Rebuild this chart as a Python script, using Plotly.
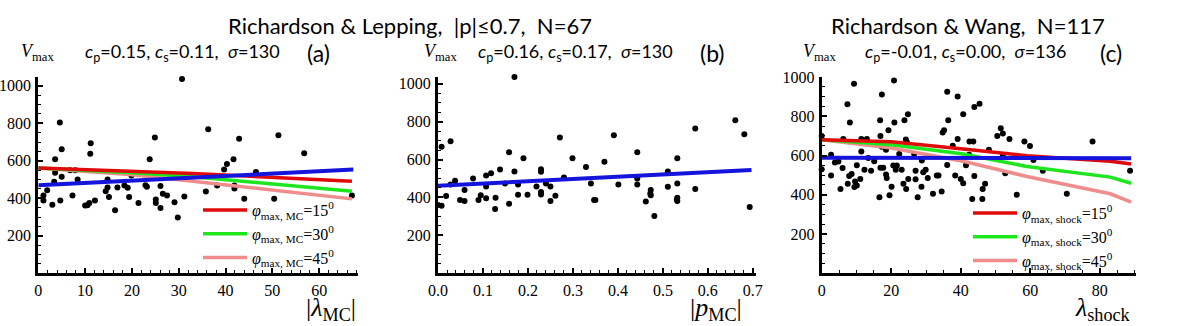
import plotly.graph_objects as go

# ---- panel (a): Richardson & Lepping, |lambda_MC| vs Vmax
lam_mc = [30.7, 4.6, 24.9, 11.2, 5.0, 11.1, 3.6, 23.8, 3.6, 6.8, 7.9, 5.0, 8.4, 3.4, 19.9, 14.8,
          24.9, 22.9, 23.2, 26.1, 1.9, 14.8, 16.9, 18.4, 19.1, 14.4, 1.1, 1.1, 26.6, 27.5, 7.3, 15.1,
          19.4, 31.2, 25.1, 25.1, 4.7, 3.0, 12.1, 10.9, 10.0, 10.5, 21.4, 26.1, 29.1, 16.4, 29.8,
          36.3, 42.9, 51.3, 56.8, 41.7, 40.3, 39.7, 46.5, 38.2, 41.9, 41.9, 35.8, 44.0, 50.4, 67.0]
vmax_a = [1036, 804, 724, 693, 661, 638, 608, 608, 536, 549, 549, 515, 500, 488, 522, 500,
          518, 470, 461, 466, 443, 457, 457, 468, 456, 438, 415, 388, 424, 415, 415, 407,
          407, 409, 393, 375, 388, 366, 388, 375, 361, 363, 375, 348, 379, 336, 298,
          768, 718, 736, 640, 608, 583, 554, 540, 468, 468, 452, 436, 397, 397, 415]
fit_a_x = [0, 67.3]
fit_a_y = [470, 553]
model_a_x = [0, 20, 33, 67]
model_a_15 = [561, 545, 532, 491]
model_a_30 = [561, 536, 515, 438]
model_a_45 = [561, 525, 491, 397]

# ---- panel (b): |p_MC| vs Vmax
p_mc = [0.170, 0.028, 0.008, 0.271, 0.158, 0.190, 0.299, 0.138, 0.170, 0.229, 0.229, 0.118, 0.107,
        0.078, 0.329, 0.038, 0.028, 0.107, 0.149, 0.178, 0.219, 0.240, 0.250, 0.280, 0.340, 0.059,
        0.018, 0.095, 0.107, 0.128, 0.178, 0.199, 0.229, 0.229, 0.261, 0.049, 0.059, 0.090, 0.250,
        0.158, 0.127, 0.000, 0.008, 0.347,
        0.661, 0.572, 0.681, 0.391, 0.443, 0.370, 0.532, 0.511, 0.443, 0.401, 0.443, 0.532, 0.511,
        0.572, 0.473, 0.473, 0.472, 0.350, 0.462, 0.532, 0.532, 0.531, 0.481, 0.693]
vmax_b = [1035, 696, 667, 716, 638, 607, 607, 547, 537, 549, 535, 528, 516,
          500, 560, 488, 468, 458, 474, 468, 458, 474, 458, 505, 474, 439,
          407, 412, 396, 398, 414, 414, 428, 416, 409, 386, 381, 386, 381,
          367, 339, 360, 356, 386,
          807, 763, 733, 728, 638, 588, 607, 537, 500, 468, 468, 474, 456,
          444, 439, 412, 421, 386, 379, 398, 381, 388, 302, 349]
fit_b_x = [0, 0.697]
fit_b_y = [461, 544]

# ---- panel (c): Richardson & Wang, lambda_shock vs Vmax
lam_sh = [20.8, 9.3, 36.1, 39.1, 17.3, 7.4, 24.8, 40.7, 8.1, 16.8, 20.9, 23.8, 36.4, 19.2, 34.8, 35.2,
          0.0, 16.9, 39.1, 6.2, 11.4, 13.0, 24.2, 24.5, 37.7, 17.3, 18.5, 11.4, 26.6, 22.3, 2.7, 13.4,
          15.1, 3.8, 4.8, 28.8, 10.1, 20.6, 21.6, 0.0, 6.0, 12.3, 14.2, 16.9, 17.7, 21.3, 23.0, 27.0,
          29.9, 36.1, 29.2, 2.7, 8.6, 7.9, 18.5, 18.7, 24.9, 27.0, 30.5, 33.1, 33.6, 38.4, 40.0, 40.7,
          11.1, 7.5, 9.6, 9.4, 10.1, 5.4, 20.1, 23.5, 24.3, 28.7, 16.6, 19.5, 27.6, 32.0, 34.5,
          45.4, 43.9, 51.5, 52.1, 50.5, 54.0, 58.3, 59.9, 77.9, 42.5, 43.6, 48.1, 42.4, 52.1, 60.9,
          41.5, 63.6, 52.8, 43.9, 47.0, 46.3, 43.3, 46.2, 56.1, 70.5, 88.7]
vmax_c = [982, 966, 925, 901, 911, 861, 810, 810, 768, 780, 768, 780, 780, 729, 717, 729,
          700, 699, 684, 684, 684, 684, 682, 667, 650, 645, 630, 620, 608, 608, 604, 587,
          571, 564, 569, 574, 550, 549, 549, 530, 537, 527, 523, 538, 538, 527, 527, 523,
          527, 552, 515, 498, 506, 496, 503, 486, 481, 479, 486, 498, 498, 498, 481, 459,
          481, 456, 468, 439, 447, 430, 441, 456, 429, 441, 388, 397, 388, 405, 417,
          864, 847, 739, 712, 699, 684, 672, 648, 672, 672, 672, 630, 604, 603, 577,
          550, 523, 510, 496, 456, 430, 378, 378, 400, 405, 523]
fit_c_x = [0, 89]
fit_c_y = [589, 586]
model_c_x = [0, 20, 40.7, 59, 83, 89]
model_c_15 = [680, 670, 633, 599, 571, 557]
model_c_30 = [680, 655, 608, 544, 490, 459]
model_c_45 = [680, 638, 571, 493, 405, 363]

RED, GREEN, PINK, BLUE = "#e00a0a", "#1ee61e", "#f08c8c", "#1414dc"
SERIF = "Liberation Serif"
SANS = "Lato"

fig = go.Figure()


def dots(x, y, xa, ya):
    fig.add_trace(go.Scatter(x=x, y=y, mode="markers", xaxis=xa, yaxis=ya, showlegend=False,
                             cliponaxis=False, marker=dict(color="black", size=6)))


def line(x, y, color, xa, ya, name=None, legend=None, rank=None, width=3.5):
    fig.add_trace(go.Scatter(x=x, y=y, mode="lines", xaxis=xa, yaxis=ya,
                             line=dict(color=color, width=width),
                             name=name, showlegend=name is not None,
                             legend=legend or "legend", legendrank=rank or 1000))


# panel (a)
dots(lam_mc, vmax_a, "x", "y")
line(model_a_x, model_a_45, PINK, "x", "y", "<i>φ</i><sub>max, MC</sub>=45<sup>0</sup>", "legend", 3)
line(model_a_x, model_a_30, GREEN, "x", "y", "<i>φ</i><sub>max, MC</sub>=30<sup>0</sup>", "legend", 2)
line(model_a_x, model_a_15, RED, "x", "y", "<i>φ</i><sub>max, MC</sub>=15<sup>0</sup>", "legend", 1)
line(fit_a_x, fit_a_y, BLUE, "x", "y", width=4)

# panel (b)
dots(p_mc, vmax_b, "x2", "y2")
line(fit_b_x, fit_b_y, BLUE, "x2", "y2", width=4)

# panel (c)
dots(lam_sh, vmax_c, "x3", "y3")
line(model_c_x, model_c_45, PINK, "x3", "y3", "<i>φ</i><sub>max, shock</sub>=45<sup>0</sup>", "legend2", 3)
line(model_c_x, model_c_30, GREEN, "x3", "y3", "<i>φ</i><sub>max, shock</sub>=30<sup>0</sup>", "legend2", 2)
line(model_c_x, model_c_15, RED, "x3", "y3", "<i>φ</i><sub>max, shock</sub>=15<sup>0</sup>", "legend2", 1)
line(fit_c_x, fit_c_y, BLUE, "x3", "y3", width=4)

W, H = 1200, 326
ydom = [(H - 273.3) / H, (H - 77) / H]


def xax(dom, rng, dtick, minor, fmt=None, anchor="y"):
    d = dict(domain=dom, range=rng, dtick=dtick, tick0=0, anchor=anchor, automargin=False,
             showline=True, linewidth=3, linecolor="black", showgrid=False, zeroline=False,
             ticks="inside", ticklen=5, tickwidth=1.5, tickcolor="black", ticklabelstandoff=0,
             minor=dict(dtick=minor, ticks="inside", ticklen=3, tickwidth=1, tickcolor="black"),
             tickfont=dict(family=SERIF, size=16, color="black"))
    if fmt:
        d["tickformat"] = fmt
    return d


def yax(rng, anchor):
    return dict(domain=ydom, range=rng, tickvals=[200, 400, 600, 800, 1000], anchor=anchor,
                automargin=False,
                showline=True, linewidth=3, linecolor="black", showgrid=False, zeroline=False,
                ticks="inside", ticklen=5, tickwidth=1.5, tickcolor="black", ticklabelstandoff=1,
                minor=dict(dtick=50, ticks="inside", ticklen=3, tickwidth=1, tickcolor="black"),
                tickfont=dict(family=SERIF, size=16, color="black"))


legend_style = dict(bgcolor="rgba(0,0,0,0)", font=dict(family=SERIF, size=16, color="black"),
                    yanchor="top", xanchor="left", tracegroupgap=0, itemwidth=44)

fig.update_layout(
    width=W, height=H, margin=dict(l=0, r=0, t=0, b=0),
    paper_bgcolor="white", plot_bgcolor="white",
    xaxis=xax([38.3 / W, 358 / W], [0, 68.3], 10, 2, anchor="y"),
    yaxis=yax([0, 1047], "x"),
    xaxis2=xax([438 / W, 756 / W], [0, 0.707], 0.1, 0.02, ".1f", anchor="y2"),
    yaxis2=yax([0, 1035], "x2"),
    xaxis3=xax([821.7 / W, 1136 / W], [0, 90.4], 20, 5, anchor="y3"),
    yaxis3=yax([0, 1000], "x3"),
    legend=dict(x=198 / W, y=(H - 193) / H, **legend_style),
    legend2=dict(x=968 / W, y=(H - 196) / H, **legend_style),
)


def note(x, y, text, size, family=SANS, xanchor="left"):
    fig.add_annotation(x=x / W, y=(H - y) / H, xref="paper", yref="paper", text=text,
                       showarrow=False, xanchor=xanchor, yanchor="middle",
                       font=dict(family=family, size=size, color="black"))


note(410, 26, "Richardson &amp; Lepping,  |p|≤0.7,  N=67", 22, xanchor="center")
note(968, 26, "Richardson &amp; Wang,  N=117", 22, xanchor="center")

note(83, 53, "<i>c</i><sub>p</sub>=0.15, <i>c</i><sub>s</sub>=0.11,  <i>σ</i>=130", 18)
note(305, 53, "(a)", 23)
note(476, 53, "<i>c</i><sub>p</sub>=0.16, <i>c</i><sub>s</sub>=0.17,  <i>σ</i>=130", 18)
note(698, 53, "(b)", 23)
note(863, 53, "<i>c</i><sub>p</sub>=-0.01, <i>c</i><sub>s</sub>=0.00,  <i>σ</i>=136", 18)
note(1098, 53, "(c)", 23)

for vx in (19, 422, 801):
    note(vx, 53, "<i>V</i><sub>max</sub>", 18, family=SERIF)

note(358, 309, "|<i>λ</i><sub>MC</sub>|", 26, family=SERIF, xanchor="right")
note(744, 309, "|<i>p</i><sub>MC</sub>|", 26, family=SERIF, xanchor="right")
note(1133, 309, "<i>λ</i><sub>shock</sub>", 26, family=SERIF, xanchor="right")

fig.write_html("out.html", config={"displayModeBar": False},
               post_script="document.body.style.margin='0px';")
